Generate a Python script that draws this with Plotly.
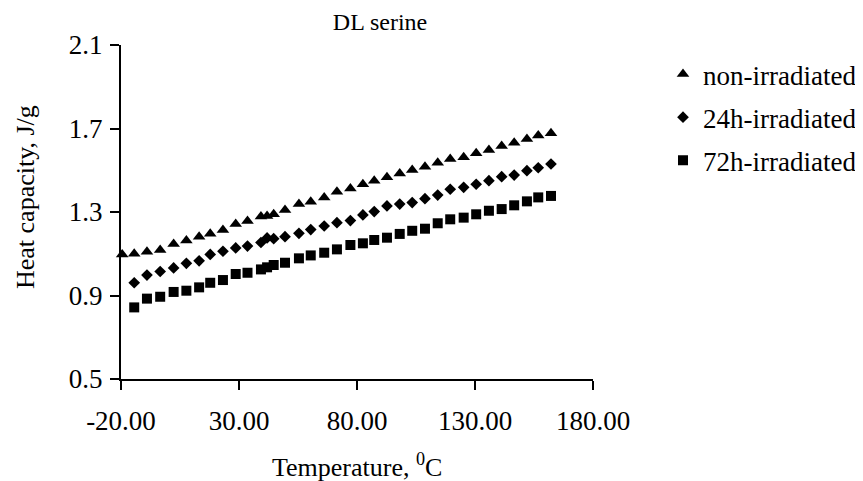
import plotly.graph_objects as go

# Temperatures (°C)
temp_non = [-19.5, -14.4, -9.0, -3.4, 2.3, 7.7, 13.1, 17.8, 23.2, 28.6, 33.6, 39.3, 41.9, 44.7,
            49.5, 55.4, 60.4, 66.1, 71.5, 77.2, 82.5, 87.3, 92.7, 98.1, 103.4, 108.8, 114.2,
            119.5, 125.2, 130.5, 135.9, 141.3, 146.6, 152.0, 156.8, 162.2]
temp_irr = [-14.4, -9.0, -3.4, 2.3, 7.7, 13.1, 17.8, 23.2, 28.6, 33.6, 39.3, 41.9, 44.7,
            49.5, 55.4, 60.4, 66.1, 71.5, 77.2, 82.5, 87.3, 92.7, 98.1, 103.4, 108.8, 114.2,
            119.5, 125.2, 130.5, 135.9, 141.3, 146.6, 152.0, 156.8, 162.2]

# Heat capacity (J/g)
cp_non = [1.097, 1.100, 1.110, 1.118, 1.147, 1.164, 1.182, 1.196, 1.214, 1.243, 1.257, 1.278,
          1.281, 1.289, 1.310, 1.338, 1.349, 1.370, 1.397, 1.413, 1.433, 1.450, 1.466, 1.485,
          1.501, 1.517, 1.536, 1.554, 1.562, 1.581, 1.597, 1.616, 1.632, 1.650, 1.666, 1.677]
cp_24h = [0.961, 0.998, 1.015, 1.032, 1.054, 1.066, 1.097, 1.112, 1.128, 1.137, 1.154, 1.176,
          1.172, 1.182, 1.198, 1.216, 1.233, 1.249, 1.259, 1.286, 1.302, 1.329, 1.338, 1.345,
          1.364, 1.381, 1.409, 1.418, 1.433, 1.450, 1.469, 1.477, 1.498, 1.512, 1.530]
cp_72h = [0.843, 0.885, 0.894, 0.917, 0.923, 0.939, 0.961, 0.974, 1.003, 1.009, 1.025, 1.035,
          1.046, 1.057, 1.078, 1.092, 1.105, 1.121, 1.142, 1.150, 1.166, 1.177, 1.195, 1.210,
          1.220, 1.246, 1.265, 1.273, 1.289, 1.306, 1.314, 1.332, 1.351, 1.370, 1.377]

series_names = ["non-irradiated", "24h-irradiated", "72h-irradiated"]
x_tick_vals = [-20, 30, 80, 130, 180]
x_tick_text = ["-20.00", "30.00", "80.00", "130.00", "180.00"]
y_tick_vals = [0.5, 0.9, 1.3, 1.7, 2.1]

FONT = "Liberation Serif, Times New Roman, serif"

# the page body has an 8px margin, so the figure is drawn 8px smaller
W, H = 855, 473

fig = go.Figure()
specs = [
    (temp_non, cp_non, series_names[0], "triangle-up", 11),
    (temp_irr, cp_24h, series_names[1], "diamond", 9),
    (temp_irr, cp_72h, series_names[2], "square", 10),
]
for i, (xs, ys, name, sym, sz) in enumerate(specs):
    fig.add_trace(go.Scatter(
        x=xs, y=ys, mode="markers", name=name, legendgroup=f"g{i}",
        marker=dict(symbol=sym, size=sz, color="black", line=dict(width=0)),
        cliponaxis=False,
    ))

fig.update_layout(
    width=W, height=H,
    margin=dict(l=113, r=270, t=37, b=102, autoexpand=False),
    paper_bgcolor="white", plot_bgcolor="white",
    font=dict(family=FONT, size=26, color="black"),
    title=dict(text="DL serine", x=372/W, xanchor="center", y=1-14/H, yanchor="middle",
               font=dict(family=FONT, size=24, color="black")),
    showlegend=True,
    legend=dict(xref="container", yref="container", x=655/W, xanchor="left",
                y=1-42/H, yanchor="top",
                font=dict(family=FONT, size=27, color="black"),
                traceorder="grouped", tracegroupgap=5, itemsizing="trace",
                bgcolor="rgba(0,0,0,0)"),
    xaxis=dict(range=[-20, 180], tickvals=x_tick_vals, ticktext=x_tick_text,
               showline=True, linecolor="black", linewidth=2, ticks="outside",
               ticklen=9, tickwidth=2, tickcolor="black", showgrid=False, zeroline=False,
               tickfont=dict(family=FONT, size=27, color="black"), ticklabelstandoff=8,
               automargin=False),
    yaxis=dict(range=[0.5, 2.1], tickvals=y_tick_vals, tickformat=".1f",
               showline=True, linecolor="black", linewidth=2, ticks="outside",
               ticklen=9, tickwidth=2, tickcolor="black", showgrid=False, zeroline=False,
               tickfont=dict(family=FONT, size=27, color="black"), ticklabelstandoff=2,
               automargin=False),
    annotations=[
        dict(text="Temperature, <sup>0</sup>C", xref="paper", yref="paper",
             x=0.5, y=(379-465)/334, xanchor="center", yanchor="middle", showarrow=False,
             font=dict(family=FONT, size=26, color="black")),
        dict(text="Heat capacity, J/g", xref="paper", yref="paper", textangle=-90,
             x=(25-121)/472, y=(379-197)/334, xanchor="center", yanchor="middle",
             showarrow=False, font=dict(family=FONT, size=26, color="black")),
    ],
)

fig.write_html("out.html")
